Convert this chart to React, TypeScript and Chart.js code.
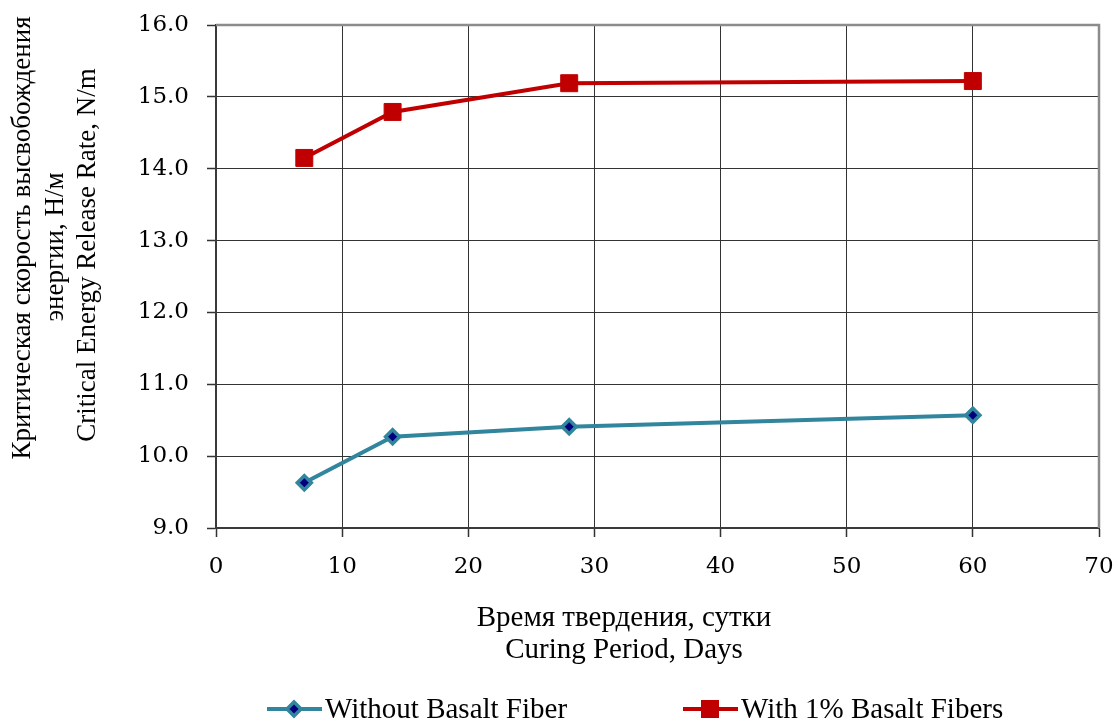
import React, { useEffect, useRef } from "react";
import { Chart, registerables } from "chart.js";

Chart.register(...registerables);

const curingDays = [7, 14, 28, 60];
const withoutFiber = [9.63, 10.27, 10.41, 10.57];
const withFiber = [14.15, 14.79, 15.19, 15.22];
const seriesLabels = ["Without Basalt Fiber", "With 1% Basalt Fibers"];
const yTitleLines = ["Критическая скорость высвобождения", "энергии, Н/м", "Critical Energy Release Rate, N/m"];
const xTitleLines = ["Время твердения, сутки", "Curing Period, Days"];

const TEAL = "#31859C";
const NAVY = "#00007F";
const RED = "#C00000";
const TICK_FONT = "'DejaVu Serif', serif";
const TITLE_FONT = "'Liberation Serif', serif";

const framePlugin = {
  id: "frame",
  beforeDatasetsDraw(chart: any) {
    const { ctx, chartArea: a } = chart;
    ctx.save();
    ctx.strokeStyle = "#8c8c8c";
    ctx.lineWidth = 2.5;
    ctx.beginPath();
    ctx.moveTo(a.left, a.top);
    ctx.lineTo(a.right, a.top);
    ctx.lineTo(a.right, a.bottom);
    ctx.stroke();
    ctx.restore();
  },
};

const titlesPlugin = {
  id: "axisTitles",
  afterDraw(chart: any) {
    const { ctx } = chart;
    ctx.save();
    ctx.fillStyle = "#000";
    ctx.textAlign = "center";
    ctx.textBaseline = "middle";
    ctx.font = `27px ${TITLE_FONT}`;
    const yPos = [
      { x: 23, y: 238 },
      { x: 56, y: 247 },
      { x: 88, y: 255 },
    ];
    yTitleLines.forEach((t, i) => {
      ctx.save();
      ctx.translate(yPos[i].x, yPos[i].y);
      ctx.rotate(-Math.PI / 2);
      ctx.fillText(t, 0, 0);
      ctx.restore();
    });
    ctx.font = `29px ${TITLE_FONT}`;
    const xPos = [618, 650];
    xTitleLines.forEach((t, i) => ctx.fillText(t, 624, xPos[i]));
    ctx.restore();
  },
};

const legendPlugin = {
  id: "customLegend",
  afterDraw(chart: any) {
    const { ctx } = chart;
    const y = 709;
    const starts = [267, 683];
    ctx.save();
    ctx.font = `29px ${TITLE_FONT}`;
    ctx.textBaseline = "middle";
    ctx.fillStyle = "#000";
    chart.data.datasets.forEach((ds: any, i: number) => {
      const x0 = starts[i];
      ctx.strokeStyle = ds.borderColor;
      ctx.lineWidth = 4;
      ctx.beginPath();
      ctx.moveTo(x0, y);
      ctx.lineTo(x0 + 55, y);
      ctx.stroke();
      const cx = x0 + 27;
      if (ds.pointStyle === "rectRot") {
        const r = ds.pointRadius;
        ctx.beginPath();
        ctx.moveTo(cx, y - r);
        ctx.lineTo(cx + r, y);
        ctx.lineTo(cx, y + r);
        ctx.lineTo(cx - r, y);
        ctx.closePath();
        ctx.fillStyle = ds.pointBackgroundColor;
        ctx.fill();
        ctx.lineWidth = ds.pointBorderWidth;
        ctx.strokeStyle = ds.pointBorderColor;
        ctx.stroke();
      } else {
        const s = 9;
        ctx.fillStyle = ds.pointBackgroundColor;
        ctx.fillRect(cx - s, y - s, 2 * s, 2 * s);
      }
      ctx.fillStyle = "#000";
      ctx.fillText(ds.label, x0 + 58, y + 1);
    });
    ctx.restore();
  },
};

export default function App() {
  const ref = useRef<HTMLCanvasElement>(null);
  useEffect(() => {
    const gridOpts = {
      color: "#333",
      lineWidth: 1,
      borderDash: [2, 1],
      tickLength: 9,
      tickColor: "#333",
      tickWidth: 1.5,
      tickBorderDash: [],
    };
    const chart = new Chart(ref.current as HTMLCanvasElement, {
      type: "scatter",
      data: {
        datasets: [
          {
            label: seriesLabels[0],
            data: curingDays.map((d, i) => ({ x: d, y: withoutFiber[i] })),
            showLine: true,
            borderColor: TEAL,
            borderWidth: 4,
            pointStyle: "rectRot",
            pointRadius: 7,
            pointBackgroundColor: NAVY,
            pointBorderColor: TEAL,
            pointBorderWidth: 3.5,
          },
          {
            label: seriesLabels[1],
            data: curingDays.map((d, i) => ({ x: d, y: withFiber[i] })),
            showLine: true,
            borderColor: RED,
            borderWidth: 4,
            pointStyle: "rect",
            pointRadius: 12,
            pointBackgroundColor: RED,
            pointBorderColor: RED,
            pointBorderWidth: 1,
          },
        ],
      },
      options: {
        animation: false,
        responsive: false,
        maintainAspectRatio: false,
        layout: { padding: { top: 25, right: 19, bottom: 54, left: 0 } },
        plugins: { legend: { display: false }, tooltip: { enabled: false } },
        scales: {
          x: {
            type: "linear",
            min: 0,
            max: 70,
            ticks: {
              stepSize: 10,
              padding: 16,
              color: "#000",
              font: { family: TICK_FONT, size: 23 },
            },
            grid: gridOpts,
            border: { color: "#3a3a3a", width: 2 },
            afterFit(scale: any) {
              scale.height = 140;
              scale.paddingLeft = 0;
              scale.paddingRight = 0;
            },
          },
          y: {
            type: "linear",
            min: 9,
            max: 16,
            ticks: {
              stepSize: 1,
              padding: 18,
              color: "#000",
              font: { family: TICK_FONT, size: 23 },
              callback: (v: any) => Number(v).toFixed(1),
            },
            grid: gridOpts,
            border: { color: "#3a3a3a", width: 2 },
            afterFit(scale: any) {
              scale.width = 216;
              scale.paddingTop = 0;
              scale.paddingBottom = 0;
            },
          },
        },
      },
      plugins: [framePlugin, titlesPlugin, legendPlugin],
    } as any);
    return () => chart.destroy();
  }, []);
  return (
    <div style={{ position: "fixed", left: 0, top: 0, width: 1118, height: 722, background: "#fff" }}>
      <canvas ref={ref} width={1118} height={722} style={{ width: 1118, height: 722 }} />
    </div>
  );
}
